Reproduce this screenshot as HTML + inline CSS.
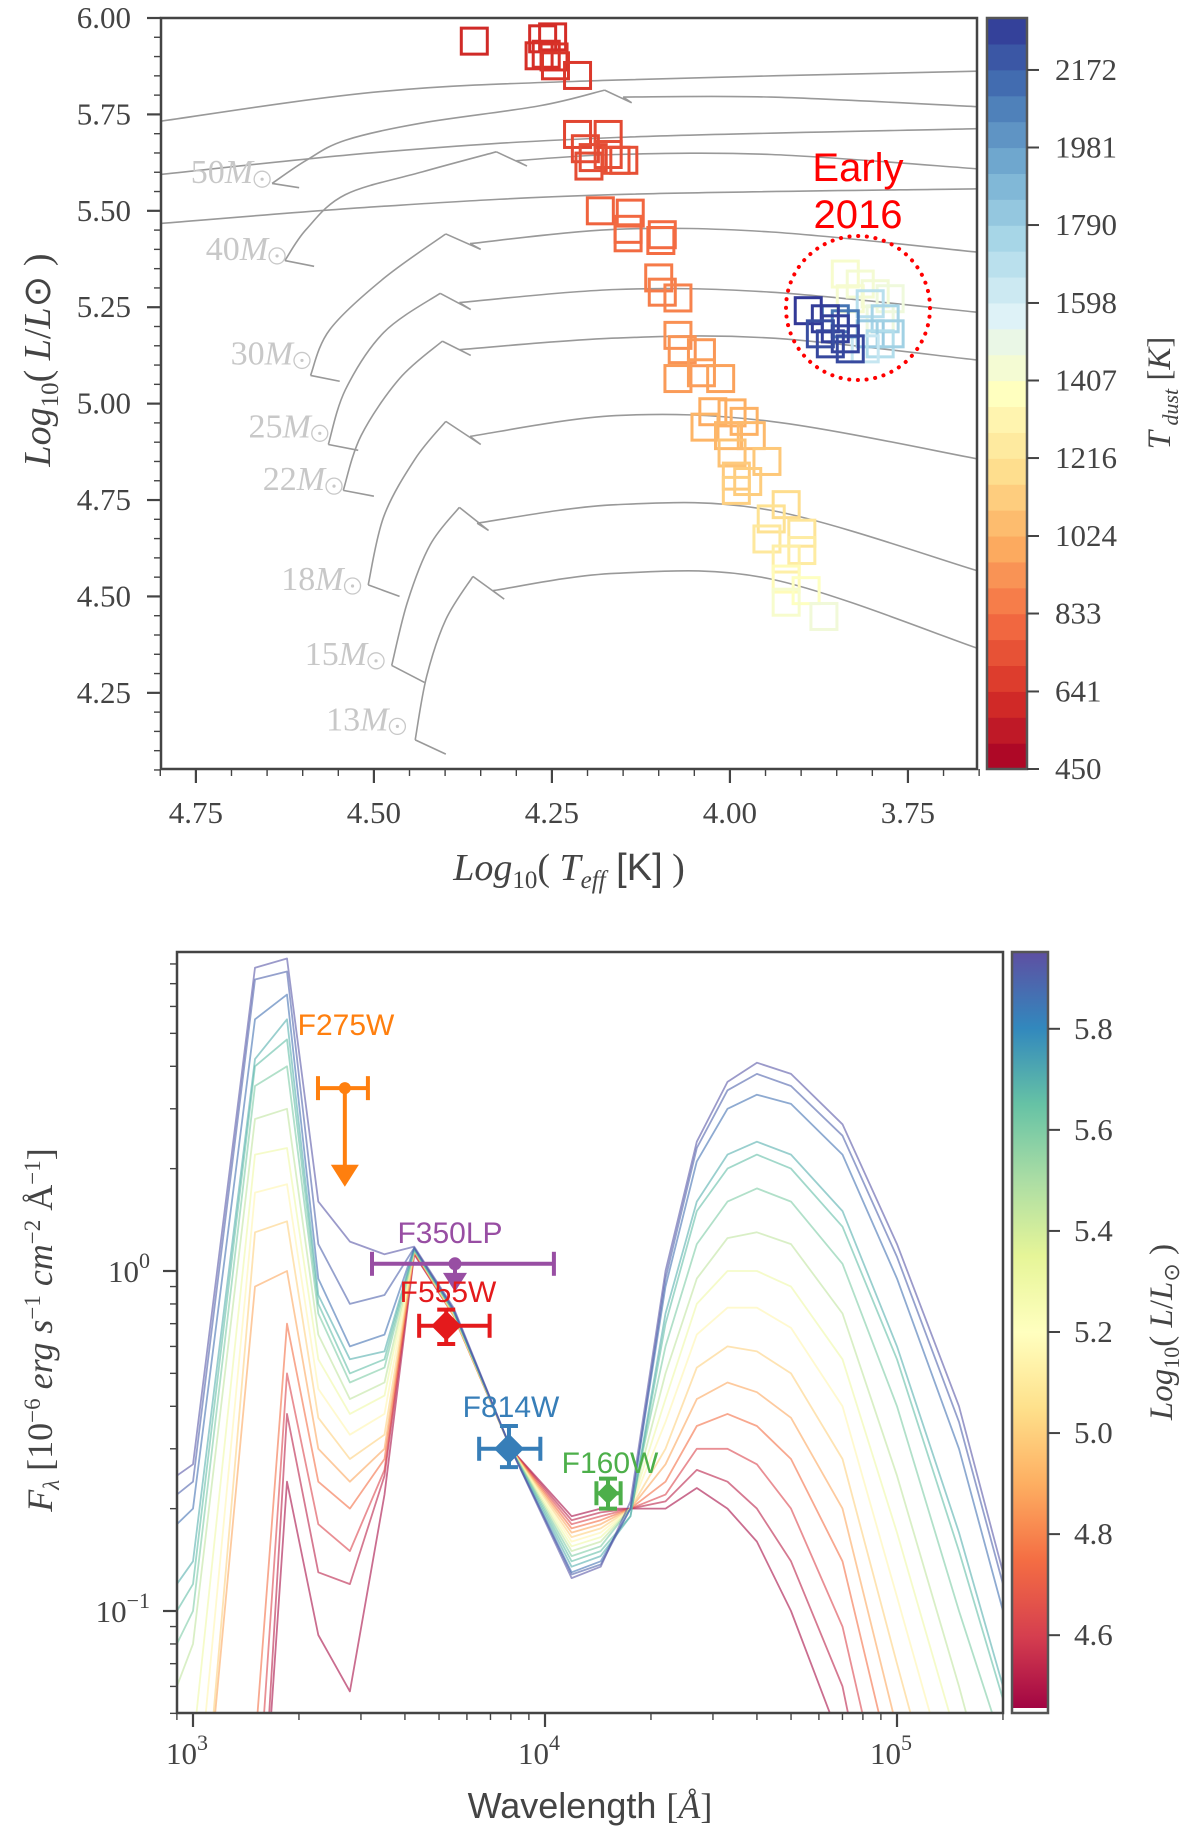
<!DOCTYPE html>
<html><head><meta charset="utf-8"><title>HR diagram and SED</title>
<style>
html,body{margin:0;padding:0;background:#fff;overflow:hidden;}
svg{display:block;}
.tk{font-family:"Liberation Serif",serif;font-size:31px;fill:#444;}
</style></head>
<body>
<svg id="fig" xmlns="http://www.w3.org/2000/svg" width="1200" height="1841" viewBox="0 0 1200 1841">
<defs>
<clipPath id="clipTop"><rect x="161" y="18" width="816" height="751"/></clipPath>
<clipPath id="clipBot"><rect x="177" y="952" width="826" height="761"/></clipPath>
<linearGradient id="specGrad" x1="0" y1="1" x2="0" y2="0"></linearGradient>
</defs>
<g id="topPlot"></g>
<g id="botPlot"></g>
</svg>
<script>
// ===== HR diagram data =====
const trackZams = [[4.643,5.571],[4.625,5.371],[4.589,5.073],[4.564,4.894],[4.543,4.775],[4.508,4.530],[4.475,4.321],[4.442,4.128]];
const trackTail = [[4.605,5.560],[4.584,5.356],[4.548,5.058],[4.522,4.879],[4.500,4.760],[4.464,4.500],[4.429,4.277],[4.399,4.091]];
const trackRise = [
 [[4.595,5.631],[4.540,5.683],[4.432,5.728],[4.268,5.772]],
 [[4.595,5.452],[4.540,5.542],[4.432,5.601]],
 [[4.562,5.192],[4.486,5.325]],
 [[4.540,5.036],[4.486,5.185]],
 [[4.518,4.917],[4.464,5.065]],
 [[4.486,4.708],[4.442,4.857]],
 [[4.453,4.485],[4.421,4.634]],
 [[4.426,4.292],[4.399,4.440]]];
const trackTop = [[4.176,5.813],[4.328,5.653],[4.399,5.440],[4.407,5.286],[4.404,5.162],[4.399,4.954],[4.380,4.731],[4.361,4.552]];
const trackHookA = [[4.138,5.780],[4.285,5.616],[4.350,5.400],[4.364,5.244],[4.364,5.125],[4.350,4.894],[4.339,4.671],[4.317,4.493]];
const trackHookB = [[4.150,5.795],[4.300,5.630],[4.365,5.415],[4.380,5.262],[4.380,5.140],[4.365,4.915],[4.355,4.690],[4.333,4.515]];
const trackCross = [
 [[3.942,5.795],[3.653,5.770]],
 [[4.160,5.646],[3.942,5.646],[3.653,5.609]],
 [[4.160,5.452],[3.942,5.445],[3.653,5.393]],
 [[4.160,5.296],[3.942,5.289],[3.653,5.237]],
 [[4.160,5.170],[3.942,5.170],[3.653,5.113]],
 [[4.160,4.969],[3.942,4.954],[3.653,4.857]],
 [[4.160,4.738],[3.942,4.723],[3.653,4.567]],
 [[4.160,4.560],[3.942,4.545],[3.653,4.366]]];
const hiTracks = [
 [[4.801,5.732],[4.486,5.810],[4.160,5.839],[3.653,5.862]],
 [[4.801,5.594],[4.486,5.653],[4.160,5.690],[3.653,5.713]],
 [[4.801,5.467],[4.486,5.512],[4.160,5.542],[3.653,5.557]]];
const massLabels = ["50","40","30","25","22","18","15","13"];
const massLabelAnchorT = [4.657,4.636,4.601,4.576,4.556,4.530,4.497,4.467];
const massLabelAnchorL = [5.582,5.383,5.112,4.923,4.786,4.527,4.333,4.163];

const teff = [4.359,4.263,4.249,4.258,4.247,4.268,4.245,4.214, 4.214,4.171,4.203,4.192,4.171,4.149,4.198,4.160, 4.182,4.140,4.143,4.143,4.097,4.095, 4.100,4.095,4.073, 4.073,4.067,4.040,4.073,4.040,4.013, 4.024,3.997,3.980,4.035,4.002,3.970, 3.997,3.948,3.991,3.975,3.991, 3.921,3.942,3.899,3.948,3.899,3.921, 3.921,3.893,3.921,3.868,
 3.838,3.817,3.796,3.775,3.831,3.789, 3.803,3.782,3.803,3.789,3.775,3.810, 3.838,3.852, 3.890,3.866,3.852,3.838,3.859,3.831,3.873];
const lum = [5.940,5.946,5.951,5.906,5.899,5.902,5.876,5.851, 5.698,5.698,5.661,5.638,5.646,5.631,5.616,5.631, 5.500,5.494,5.452,5.430,5.423,5.438, 5.326,5.289,5.274, 5.177,5.140,5.132,5.065,5.080,5.065, 4.979,4.976,4.954,4.939,4.917,4.917, 4.872,4.850,4.812,4.798,4.775, 4.738,4.701,4.664,4.649,4.619,4.597, 4.545,4.515,4.485,4.448,
 5.336,5.310,5.285,5.272,5.272,5.220, 5.259,5.220,5.181,5.155,5.181,5.142, 5.207,5.220, 5.241,5.220,5.194,5.168,5.155,5.142,5.181];
const tdust = [610,620,625,630,640,630,650,660, 700,710,715,720,725,730,720,735, 790,800,805,810,820,815, 860,870,880, 920,930,940,950,960,970, 1000,1010,1020,1030,1040,1050, 1080,1100,1110,1120,1130, 1180,1200,1220,1240,1260,1280, 1350,1380,1420,1460,
 1420,1440,1450,1470,1430,1480, 1700,1760,1800,1720,1780,1650, 2100,2120, 2290,2280,2270,2260,2250,2240,2230];
const yTicksTop = [4.25,4.50,4.75,5.00,5.25,5.50,5.75,6.00];
const yTickLabelsTop = ["4.25","4.50","4.75","5.00","5.25","5.50","5.75","6.00"];
const xTicksTop = [4.75,4.50,4.25,4.00,3.75];
const xTickLabelsTop = ["4.75","4.50","4.25","4.00","3.75"];
const cbTicksTop = [450,641,833,1024,1216,1407,1598,1790,1981,2172];

// ===== SED data =====
const waves = [900,1000,1500,1850,2270,2790,3500,4250,5500,8000,11900,14400,17500,22000,27000,33000,40000,50000,70000,100000,150000,200000];
const modelLum = [5.93,5.90,5.86,5.70,5.66,5.60,5.45,5.30,5.15,5.00,4.88,4.75,4.62,4.52,4.47];
const modelFlux = [
 [0.25,0.27,7.8,8.3,1.6,1.22,1.12,1.18,0.78,0.30,0.125,0.135,0.21,1.0,2.4,3.6,4.1,3.8,2.7,1.2,0.4,0.13],
 [0.22,0.24,7.2,7.6,1.2,0.8,0.85,1.17,0.77,0.30,0.128,0.137,0.2,0.95,2.3,3.4,3.8,3.5,2.5,1.1,0.36,0.12],
 [0.18,0.2,5.5,6.5,0.95,0.6,0.65,1.17,0.77,0.30,0.13,0.14,0.2,0.9,2.1,3.0,3.3,3.1,2.2,0.95,0.3,0.1],
 [0.12,0.14,4.2,5.5,0.85,0.55,0.58,1.16,0.76,0.30,0.135,0.145,0.19,0.75,1.6,2.2,2.4,2.2,1.5,0.6,0.17,0.06],
 [0.10,0.12,4.0,4.8,0.8,0.5,0.55,1.16,0.76,0.30,0.14,0.15,0.19,0.7,1.5,2.0,2.2,2.0,1.35,0.55,0.15,0.055],
 [0.08,0.1,3.5,4.0,0.75,0.47,0.52,1.15,0.76,0.30,0.145,0.155,0.2,0.6,1.2,1.6,1.75,1.6,1.05,0.4,0.1,0.04],
 [0.06,0.08,2.8,3.0,0.65,0.42,0.47,1.15,0.75,0.30,0.15,0.16,0.2,0.5,0.95,1.25,1.3,1.2,0.75,0.25,0.06,0.02],
 [0.04,0.04,2.2,2.3,0.55,0.38,0.43,1.15,0.75,0.30,0.155,0.165,0.2,0.42,0.8,1.0,1.0,0.9,0.55,0.17,0.04,0.015],
 [0.02,0.02,1.7,1.8,0.45,0.33,0.38,1.15,0.75,0.30,0.16,0.17,0.2,0.36,0.65,0.78,0.78,0.68,0.4,0.11,0.025,0.01],
 [0.01,0.01,1.3,1.4,0.37,0.28,0.33,1.15,0.74,0.30,0.165,0.175,0.2,0.3,0.52,0.6,0.58,0.5,0.28,0.07,0.015,0.006],
 [0.01,0.01,0.9,1.0,0.3,0.24,0.3,1.14,0.74,0.30,0.17,0.18,0.2,0.27,0.42,0.47,0.44,0.37,0.2,0.045,0.01,0.004],
 [0.005,0.005,0.04,0.7,0.24,0.2,0.28,1.14,0.74,0.30,0.175,0.185,0.2,0.24,0.35,0.38,0.35,0.28,0.14,0.03,0.006,0.002],
 [0.005,0.005,0.02,0.5,0.18,0.15,0.26,1.13,0.74,0.30,0.18,0.19,0.2,0.22,0.3,0.3,0.27,0.2,0.09,0.018,0.004,0.001],
 [0.003,0.003,0.01,0.38,0.13,0.12,0.25,1.13,0.74,0.30,0.185,0.195,0.2,0.21,0.26,0.24,0.2,0.14,0.06,0.01,0.002,0.001],
 [0.002,0.002,0.01,0.24,0.085,0.058,0.22,1.12,0.74,0.30,0.19,0.2,0.2,0.2,0.23,0.2,0.16,0.1,0.04,0.008,0.002,0.001]];
const obsNames = ["F275W","F350LP","F555W","F814W","F160W"];
const obsWave = [2700,5550,5240,7900,15100];
const obsFlux = [3.45,1.05,0.69,0.30,0.222];
const obsWaveLo = [2265,3225,4390,6500,14000];
const obsWaveHi = [3140,10600,6960,9700,16400];
const obsFluxLo = [1.77,0.88,0.61,0.265,0.20];
const obsFluxHi = [3.45,1.05,0.77,0.35,0.245];
const obsColors = ["#ff7f0e","#984ea3","#e41a1c","#377eb8","#4daf4a"];
const cbTicksBot = [4.6,4.8,5.0,5.2,5.4,5.6,5.8];

// ===== helpers =====
const NS="http://www.w3.org/2000/svg";
function mk(parent,tag,attrs){const e=document.createElementNS(NS,tag);for(const k in attrs)e.setAttribute(k,attrs[k]);parent.appendChild(e);return e;}
function lerpHex(stops,t){t=Math.max(0,Math.min(1,t));const n=stops.length-1;const i=Math.min(n-1,Math.floor(t*n));const f=t*n-i;
 const a=stops[i],b=stops[i+1];const p=h=>[parseInt(h.substr(1,2),16),parseInt(h.substr(3,2),16),parseInt(h.substr(5,2),16)];
 const A=p(a),B=p(b);return "rgb("+A.map((v,k)=>Math.round(v+(B[k]-v)*f)).join(",")+")";}
const RDYLBU=["#a50026","#d73027","#f46d43","#fdae61","#fee090","#ffffbf","#e0f3f8","#abd9e9","#74add1","#4575b4","#313695"];
const SPECTRAL=["#9e0142","#d53e4f","#f46d43","#fdae61","#fee08b","#ffffbf","#e6f598","#abdda4","#66c2a5","#3288bd","#5e4fa2"];
function smoothPath(pts){let d="M"+pts[0][0]+","+pts[0][1];
 for(let i=0;i<pts.length-1;i++){const p0=pts[Math.max(0,i-1)],p1=pts[i],p2=pts[i+1],p3=pts[Math.min(pts.length-1,i+2)];
  const c1=[p1[0]+(p2[0]-p0[0])/6,p1[1]+(p2[1]-p0[1])/6],c2=[p2[0]-(p3[0]-p1[0])/6,p2[1]-(p3[1]-p1[1])/6];
  d+=" C"+c1[0].toFixed(1)+","+c1[1].toFixed(1)+" "+c2[0].toFixed(1)+","+c2[1].toFixed(1)+" "+p2[0].toFixed(1)+","+p2[1].toFixed(1);}
 return d;}
// split a pixel polyline at a lower y-limit so nothing extends beyond the frame
function clipBelow(pts,ymax){const out=[];let cur=[];
 for(let i=0;i<pts.length;i++){const p=pts[i];
  if(i>0){const q=pts[i-1];
   const qin=q[1]<=ymax,pin=p[1]<=ymax;
   if(qin&&!pin){const t=(ymax-q[1])/(p[1]-q[1]);cur.push([q[0]+t*(p[0]-q[0]),ymax]);out.push(cur);cur=[];}
   else if(!qin&&pin){const t=(ymax-q[1])/(p[1]-q[1]);cur=[[q[0]+t*(p[0]-q[0]),ymax]];}
  }
  if(p[1]<=ymax)cur.push(p);}
 if(cur.length>1)out.push(cur);return out.filter(s=>s.length>1);}

// ===== TOP PLOT =====
const T0=4.799,T1=3.653,L0=4.0525,L1=6.0;
const AX={l:161,r:977,t:18,b:769};
const X=T=>AX.l+(T0-T)/(T0-T1)*(AX.r-AX.l);
const Y=L=>AX.b-(L-L0)/(L1-L0)*(AX.b-AX.t);
const topG=document.getElementById('topPlot');
const plotTop=mk(topG,'g',{'clip-path':'url(#clipTop)'});


const trkStyle={fill:'none',stroke:'#999','stroke-width':1.6};
const P=a=>[X(a[0]),Y(a[1])];
hiTracks.forEach((tr,i)=>{const p=mk(plotTop,'path',Object.assign({d:smoothPath(tr.map(P))},trkStyle));
 
 });
for(let i=0;i<trackZams.length;i++){
 const g=mk(plotTop,'g',{});
 
 
 const z=P(trackZams[i]),tl=P(trackTail[i]);
 mk(g,'path',Object.assign({d:"M"+z+" L"+tl},trkStyle));
 const rise=[trackZams[i]].concat(trackRise[i],[trackTop[i]]).map(P);
 mk(g,'path',Object.assign({d:smoothPath(rise)},trkStyle));
 const hk=[trackTop[i],trackHookA[i],trackHookB[i]].map(P);
 mk(g,'path',Object.assign({d:"M"+hk.join(" L")},trkStyle));
 const cr=[trackHookB[i]].concat(trackCross[i]).map(P);
 mk(g,'path',Object.assign({d:smoothPath(cr)},trkStyle));
}
// squares
for(let i=0;i<teff.length;i++){
 const s=26, cx=X(teff[i]), cy=Y(lum[i]);
 const r=mk(plotTop,'rect',{x:cx-s/2,y:cy-s/2,width:s,height:s,fill:'none',stroke:lerpHex(RDYLBU,(tdust[i]-450)/(2300-450)),'stroke-width':3});
 
 
}
// mass labels
for(let i=0;i<massLabels.length;i++){
 const cx=X(massLabelAnchorT[i]), cy=Y(massLabelAnchorL[i]);
 const g=mk(topG,'g',{});
 
 
 const t=mk(g,'text',{x:cx-9,y:cy+4,'text-anchor':'end','font-family':'"Liberation Serif",serif','font-size':34,fill:'#c8c8c8'});
 t.innerHTML=massLabels[i]+'<tspan font-style="italic">M</tspan>';
 mk(g,'circle',{cx:cx,cy:cy,r:8,fill:'none',stroke:'#c8c8c8','stroke-width':1.3});
 mk(g,'circle',{cx:cx,cy:cy,r:1.6,fill:'#c8c8c8'});
}
// Early 2016 annotation
const circ=mk(topG,'circle',{cx:858,cy:308,r:72,fill:'none',stroke:'#f00','stroke-width':4,'stroke-dasharray':'0.1 8.6','stroke-linecap':'round'});


const et=mk(topG,'text',{x:858,y:181,'text-anchor':'middle','font-family':'"Liberation Sans",sans-serif','font-size':40,fill:'#f00'});
et.textContent='Early';


const et2=mk(topG,'text',{x:858,y:228,'text-anchor':'middle','font-family':'"Liberation Sans",sans-serif','font-size':40,fill:'#f00'});
et2.textContent='2016';


// frame
const fr=mk(topG,'rect',{x:AX.l,y:AX.t,width:AX.r-AX.l,height:AX.b-AX.t,fill:'none',stroke:'#444','stroke-width':2.5});


// y ticks
for(let v=4.05;v<=6.0001;v+=0.05){const y=Y(v);const maj=Math.abs(v*4-Math.round(v*4))<1e-6;
 mk(topG,'line',{x1:AX.l,x2:AX.l-(maj?14:7),y1:y,y2:y,stroke:'#444','stroke-width':maj?2.2:1.4});}
yTicksTop.forEach((v,i)=>{const t=mk(topG,'text',{x:131,y:Y(v)+10,'text-anchor':'end',class:'tk'});t.textContent=yTickLabelsTop[i];
 
 });
for(let v=3.65;v<=4.80001;v+=0.05){const x=X(v);const maj=Math.abs(v*4-Math.round(v*4))<1e-6;
 mk(topG,'line',{x1:x,x2:x,y1:AX.b,y2:AX.b+(maj?14:7),stroke:'#444','stroke-width':maj?2.2:1.4});}
xTicksTop.forEach((v,i)=>{const t=mk(topG,'text',{x:X(v),y:823,'text-anchor':'middle',class:'tk'});t.textContent=xTickLabelsTop[i];
 
 });
// axis titles
const yl=mk(topG,'text',{transform:'translate(50,360) rotate(-90)','text-anchor':'middle','font-family':'"Liberation Serif",serif','font-size':38,fill:'#444'});
yl.innerHTML='<tspan font-style="italic">Log</tspan><tspan font-size="25" dy="8">10</tspan><tspan dy="-8">( </tspan><tspan font-style="italic">L</tspan>/<tspan font-style="italic">L</tspan>⊙ )';


const xl=mk(topG,'text',{x:569,y:880,'text-anchor':'middle','font-family':'"Liberation Serif",serif','font-size':38,fill:'#444'});
xl.innerHTML='<tspan font-style="italic">Log</tspan><tspan font-size="25" dy="8">10</tspan><tspan dy="-8">( </tspan><tspan font-style="italic">T</tspan><tspan font-style="italic" font-size="25" dy="8">eff</tspan><tspan dy="-8" font-family="Liberation Sans, sans-serif"> [K]</tspan> )';


// colorbar (discrete)
const CB={l:987,r:1027,t:18,b:769},TD0=450,TD1=2300,nb=29;
const cbg=mk(topG,'g',{});


for(let k=0;k<nb;k++){const y0=CB.b-(k+1)*(CB.b-CB.t)/nb;
 mk(cbg,'rect',{x:CB.l,y:y0,width:CB.r-CB.l,height:(CB.b-CB.t)/nb+0.6,fill:lerpHex(RDYLBU,(k+0.5)/nb)});}
mk(cbg,'rect',{x:CB.l,y:CB.t,width:CB.r-CB.l,height:CB.b-CB.t,fill:'none',stroke:'#555','stroke-width':2.5});
const CY=v=>CB.b-(v-TD0)/(TD1-TD0)*(CB.b-CB.t);
cbTicksTop.forEach(v=>{const y=CY(v);mk(cbg,'line',{x1:CB.r,x2:CB.r+12,y1:y,y2:y,stroke:'#444','stroke-width':2});
 const t=mk(cbg,'text',{x:1055,y:y+10,class:'tk'});t.textContent=String(v);
 
 });
const cl=mk(topG,'text',{transform:'translate(1170,393) rotate(-90)','text-anchor':'middle','font-family':'"Liberation Serif",serif','font-size':33,fill:'#444'});
cl.innerHTML='<tspan font-style="italic">T</tspan><tspan font-style="italic" font-size="22" dy="8"> dust</tspan><tspan dy="-8"> [</tspan><tspan font-style="italic">K</tspan>]';



// ===== BOTTOM PLOT =====
const BA={l:177,r:1003,t:952,b:1713};
const BX=w=>193+352*(Math.log10(w)-3);
const BY=f=>1271-340*Math.log10(f);
const botG=document.getElementById('botPlot');
const LUM0=4.446,LUM1=5.952;
const models=mk(botG,'g',{'clip-path':'url(#clipBot)'});


for(let i=modelLum.length-1;i>=0;i--){
 const raw=waves.map((w,j)=>[BX(w),BY(modelFlux[i][j])]);
 const col=lerpHex(SPECTRAL,(modelLum[i]-LUM0)/(LUM1-LUM0));
 clipBelow(raw,BA.b+2).forEach(seg=>{
  const p=mk(models,'polyline',{points:seg.map(q=>q[0].toFixed(1)+","+q[1].toFixed(1)).join(" "),fill:'none',stroke:col,'stroke-width':1.8,'stroke-opacity':0.6,'stroke-linejoin':'round'});
  
  
 });
}
// observations
for(let i=0;i<obsNames.length;i++){
 const g=mk(botG,'g',{});
 
 
 const c=obsColors[i],x=BX(obsWave[i]),y=BY(obsFlux[i]),xl0=BX(obsWaveLo[i]),xh=BX(obsWaveHi[i]);
 mk(g,'line',{x1:xl0,x2:xh,y1:y,y2:y,stroke:c,'stroke-width':4});
 mk(g,'line',{x1:xl0,x2:xl0,y1:y-12,y2:y+12,stroke:c,'stroke-width':4});
 mk(g,'line',{x1:xh,x2:xh,y1:y-12,y2:y+12,stroke:c,'stroke-width':4});
 if(i===0){const yb=BY(obsFluxLo[i]);
  mk(g,'line',{x1:x,x2:x,y1:y,y2:yb-20,stroke:c,'stroke-width':4});
  mk(g,'path',{d:`M${x-14},${yb-22} L${x+14},${yb-22} L${x},${yb} Z`,fill:c});
  mk(g,'circle',{cx:x,cy:y,r:6,fill:c});}
 else if(i===1){const yb=BY(obsFluxLo[i]);
  mk(g,'line',{x1:x,x2:x,y1:y,y2:yb-15,stroke:c,'stroke-width':4});
  mk(g,'path',{d:`M${x-12},${yb-17} L${x+12},${yb-17} L${x},${yb+2} Z`,fill:c});
  mk(g,'circle',{cx:x,cy:y,r:6.5,fill:c});}
 else{const ya=BY(obsFluxHi[i]),yb=BY(obsFluxLo[i]);
  mk(g,'line',{x1:x,x2:x,y1:ya,y2:yb,stroke:c,'stroke-width':4});
  mk(g,'line',{x1:x-9,x2:x+9,y1:ya,y2:ya,stroke:c,'stroke-width':4});
  mk(g,'line',{x1:x-9,x2:x+9,y1:yb,y2:yb,stroke:c,'stroke-width':4});
  const s=i===4?11:15;
  mk(g,'path',{d:`M${x},${y-s} L${x+s},${y} L${x},${y+s} L${x-s},${y} Z`,fill:c});}
}
const labPos=[[346,1035],[450,1243],[448,1302],[511,1417],[610,1473]];
obsNames.forEach((n,i)=>{const t=mk(botG,'text',{x:labPos[i][0],y:labPos[i][1],'text-anchor':'middle','font-family':'"Liberation Sans",sans-serif','font-size':30,fill:obsColors[i]});
 t.textContent=n;
 
 });
// frame
const bf=mk(botG,'rect',{x:BA.l,y:BA.t,width:BA.r-BA.l,height:BA.b-BA.t,fill:'none',stroke:'#444','stroke-width':2.5});


// x ticks (log)
for(let d=2;d<=5;d++){for(let m=1;m<=9;m++){const w=m*Math.pow(10,d);const x=BX(w);if(x<BA.l-0.5||x>BA.r+0.5)continue;
 mk(botG,'line',{x1:x,x2:x,y1:BA.b,y2:BA.b+(m===1?14:7),stroke:'#444','stroke-width':m===1?2.2:1.4});}}
[3,4,5].forEach(e=>{const t=mk(botG,'text',{x:BX(Math.pow(10,e))-6,y:1764,'text-anchor':'middle',class:'tk','font-size':33});
 t.innerHTML='10<tspan font-size="22" dy="-14">'+e+'</tspan>';
 
 });
for(let d=-2;d<=0;d++){for(let m=1;m<=9;m++){const f=m*Math.pow(10,d);const y=BY(f);if(y>BA.b+0.5||y<BA.t-0.5)continue;
 mk(botG,'line',{x1:BA.l,x2:BA.l-(m===1?14:7),y1:y,y2:y,stroke:'#444','stroke-width':m===1?2.2:1.4});}}
[[0,"0"],[-1,"−1"]].forEach(([e,s])=>{const t=mk(botG,'text',{x:150,y:BY(Math.pow(10,e))+11,'text-anchor':'end',class:'tk','font-size':33});
 t.innerHTML='10<tspan font-size="22" dy="-14">'+s+'</tspan>';
 
 });
const byl=mk(botG,'text',{transform:'translate(52,1330) rotate(-90)','text-anchor':'middle','font-family':'"Liberation Serif",serif','font-size':36,fill:'#444'});
byl.innerHTML='<tspan font-style="italic">F</tspan><tspan font-style="italic" font-size="23" dy="7">λ</tspan><tspan dy="-7"> [10</tspan><tspan font-size="23" dy="-12">−6</tspan><tspan dy="12" font-style="italic"> erg s</tspan><tspan font-size="23" dy="-12">−1</tspan><tspan dy="12" font-style="italic"> cm</tspan><tspan font-size="23" dy="-12">−2</tspan><tspan dy="12"> Å</tspan><tspan font-size="23" dy="-12">−1</tspan><tspan dy="12">]</tspan>';


const bxl=mk(botG,'text',{x:590,y:1818,'text-anchor':'middle','font-family':'"Liberation Sans",sans-serif','font-size':36,fill:'#444'});
bxl.innerHTML='Wavelength <tspan font-family="Liberation Serif, serif">[</tspan><tspan font-family="Liberation Serif, serif" font-style="italic">Å</tspan><tspan font-family="Liberation Serif, serif">]</tspan>';


// colorbar (continuous)
const grad=document.getElementById('specGrad');
for(let k=0;k<=20;k++){mk(grad,'stop',{offset:(k/20).toFixed(3),'stop-color':lerpHex(SPECTRAL,k/20)});}
const CB2={l:1012,r:1048,t:952,b:1713};
const cb2=mk(botG,'g',{});


mk(cb2,'rect',{x:CB2.l,y:CB2.t,width:CB2.r-CB2.l,height:CB2.b-CB2.t,fill:'url(#specGrad)'});
mk(cb2,'rect',{x:CB2.l,y:CB2.b-5,width:CB2.r-CB2.l,height:5,fill:'#fff'});
mk(cb2,'rect',{x:CB2.l,y:CB2.t,width:CB2.r-CB2.l,height:CB2.b-CB2.t,fill:'none',stroke:'#555','stroke-width':2.5});
const CY2=v=>CB2.b-(v-LUM0)/(LUM1-LUM0)*(CB2.b-CB2.t);
cbTicksBot.forEach(v=>{const y=CY2(v);mk(cb2,'line',{x1:CB2.r,x2:CB2.r+12,y1:y,y2:y,stroke:'#444','stroke-width':2});
 const t=mk(cb2,'text',{x:1074,y:y+10,class:'tk'});t.textContent=v.toFixed(1);
 
 });
const c2l=mk(botG,'text',{transform:'translate(1172,1332) rotate(-90)','text-anchor':'middle','font-family':'"Liberation Serif",serif','font-size':33,fill:'#444'});
c2l.innerHTML='<tspan font-style="italic">Log</tspan><tspan font-size="22" dy="7">10</tspan><tspan dy="-7">( </tspan><tspan font-style="italic">L</tspan>/<tspan font-style="italic">L</tspan><tspan font-size="22" dy="7">⊙</tspan><tspan dy="-7"> )</tspan>';


</script>
</body></html>
